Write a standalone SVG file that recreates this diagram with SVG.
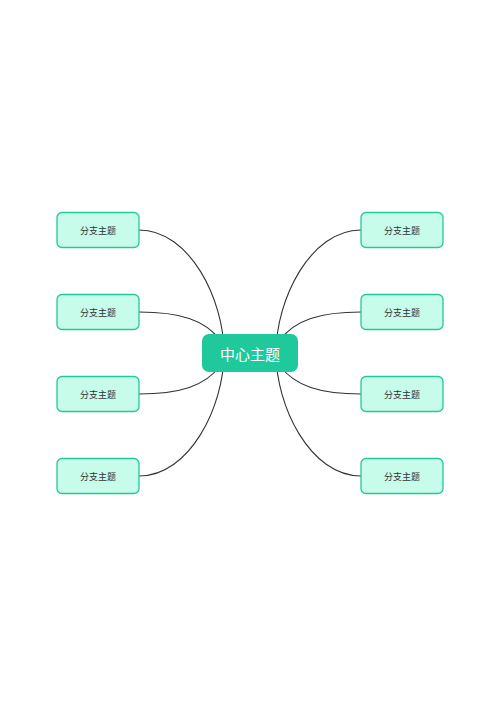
<svg xmlns="http://www.w3.org/2000/svg" width="500" height="707" viewBox="0 0 500 707">
<style>
.conn{fill:none;stroke:#333;stroke-width:1.1}
.br rect{fill:#c7fcea;stroke:#21c99b;stroke-width:1.3}
.br text{font-family:"Noto Sans CJK SC","Liberation Sans",sans-serif;font-size:9px;fill:#333;text-anchor:middle;dominant-baseline:central}
</style>
<rect width="500" height="707" fill="#fff"/>
<g id="connectors">
<path class="conn" d="M139 230 C190 230 224 300 224 353"/>
<path class="conn" d="M139 312 C180 312 205 320 220 340"/>
<path class="conn" d="M139 394 C180 394 205 386 220 366"/>
<path class="conn" d="M139 476 C190 476 224 406 224 353"/>
<path class="conn" d="M361 230 C310 230 276 300 276 353"/>
<path class="conn" d="M361 312 C320 312 295 320 280 340"/>
<path class="conn" d="M361 394 C320 394 295 386 280 366"/>
<path class="conn" d="M361 476 C310 476 276 406 276 353"/>
</g>
<g id="center">
<rect x="202" y="334" width="96" height="38" rx="7" fill="#1fc99b"/>
<text x="250" y="353" font-family="Noto Sans CJK SC,Liberation Sans,sans-serif" font-size="15" fill="#fff" text-anchor="middle" dominant-baseline="central">中心主题</text>
</g>
<g id="b1" class="br"><rect x="57" y="212.5" width="82" height="35" rx="5"/><text x="98" y="230">分支主题</text></g>
<g id="b2" class="br"><rect x="57" y="294.5" width="82" height="35" rx="5"/><text x="98" y="312">分支主题</text></g>
<g id="b3" class="br"><rect x="57" y="376.5" width="82" height="35" rx="5"/><text x="98" y="394">分支主题</text></g>
<g id="b4" class="br"><rect x="57" y="458.5" width="82" height="35" rx="5"/><text x="98" y="476">分支主题</text></g>
<g id="b5" class="br"><rect x="361" y="212.5" width="82" height="35" rx="5"/><text x="402" y="230">分支主题</text></g>
<g id="b6" class="br"><rect x="361" y="294.5" width="82" height="35" rx="5"/><text x="402" y="312">分支主题</text></g>
<g id="b7" class="br"><rect x="361" y="376.5" width="82" height="35" rx="5"/><text x="402" y="394">分支主题</text></g>
<g id="b8" class="br"><rect x="361" y="458.5" width="82" height="35" rx="5"/><text x="402" y="476">分支主题</text></g>
</svg>
